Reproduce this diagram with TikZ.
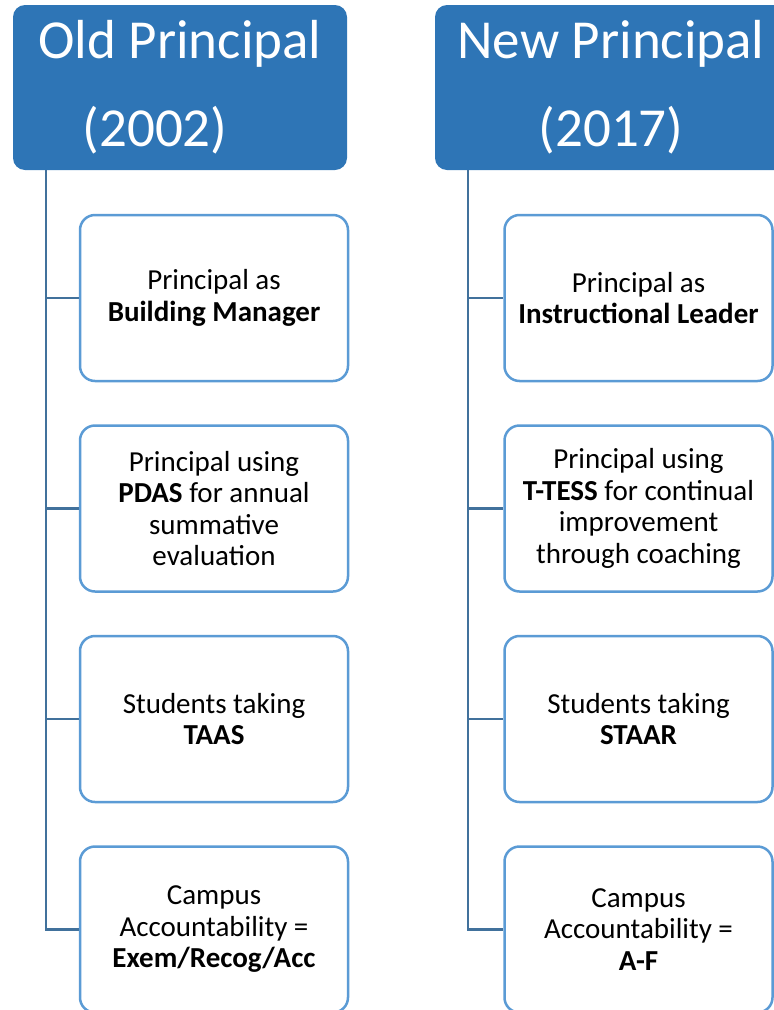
\documentclass[tikz,border=0pt]{standalone}
\usepackage{fontspec}
\setmainfont{Carlito}
\usetikzlibrary{positioning}
\definecolor{headblue}{RGB}{46,117,182}
\definecolor{edgeblue}{RGB}{91,155,213}
\definecolor{linkblue}{RGB}{65,113,156}

\begin{document}
\begin{tikzpicture}[x=1pt, y=-1pt,
    header/.style={rectangle, rounded corners=12pt, fill=headblue, text=white, align=center,
        minimum height=165pt, inner sep=0pt, font=\fontsize{55}{86}\selectfont},
    item/.style={rectangle, rounded corners=15pt, draw=edgeblue, line width=2.5pt, fill=white,
        align=center, minimum width=268pt, minimum height=166pt, inner sep=0pt,
        font=\fontsize{29}{31.5}\selectfont},
    link/.style={draw=linkblue, line width=2.5pt}]
    \clip (0,0) rectangle (774,1010);

    % Headers
    \node[header, minimum width=334pt] (old) at (180, 87.5) {Old Principal\\[2pt](2002)\hspace*{50pt}};
    \node[header, minimum width=352pt] (new) at (611, 87.5) {New Principal\\[2pt](2017)};

    % Old column
    \node[item] (o1) at (214, 298) {Principal as\\\textbf{Building Manager}};
    \node[item, below=42pt of o1] (o2) {Principal using\\\textbf{PDAS} for annual\\summative\\evaluation};
    \node[item, below=42pt of o2] (o3) {Students taking\\\textbf{TAAS}};
    \node[item, below=42pt of o3] (o4) {Campus\\Accountability =\\\textbf{Exem/Recog/Acc}};

    % New column
    \node[item] (n1) at (638.5, 298) {Principal as\\\textbf{Instructional Leader}};
    \node[item, below=42pt of n1] (n2) {Principal using\\\textbf{T-TESS} for continual\\improvement\\through coaching};
    \node[item, below=42pt of n2] (n3) {Students taking\\\textbf{STAAR}};
    \node[item, below=42pt of n3] (n4) {Campus\\Accountability =\\\textbf{A-F}};

    % Connectors
    \coordinate (otrunk) at (46, 170);
    \coordinate (ntrunk) at (468, 170);
    \foreach \i in {1,...,4} {
        \draw[link] (otrunk) |- (o\i.west);
        \draw[link] (ntrunk) |- (n\i.west);
    }
\end{tikzpicture}
\end{document}
